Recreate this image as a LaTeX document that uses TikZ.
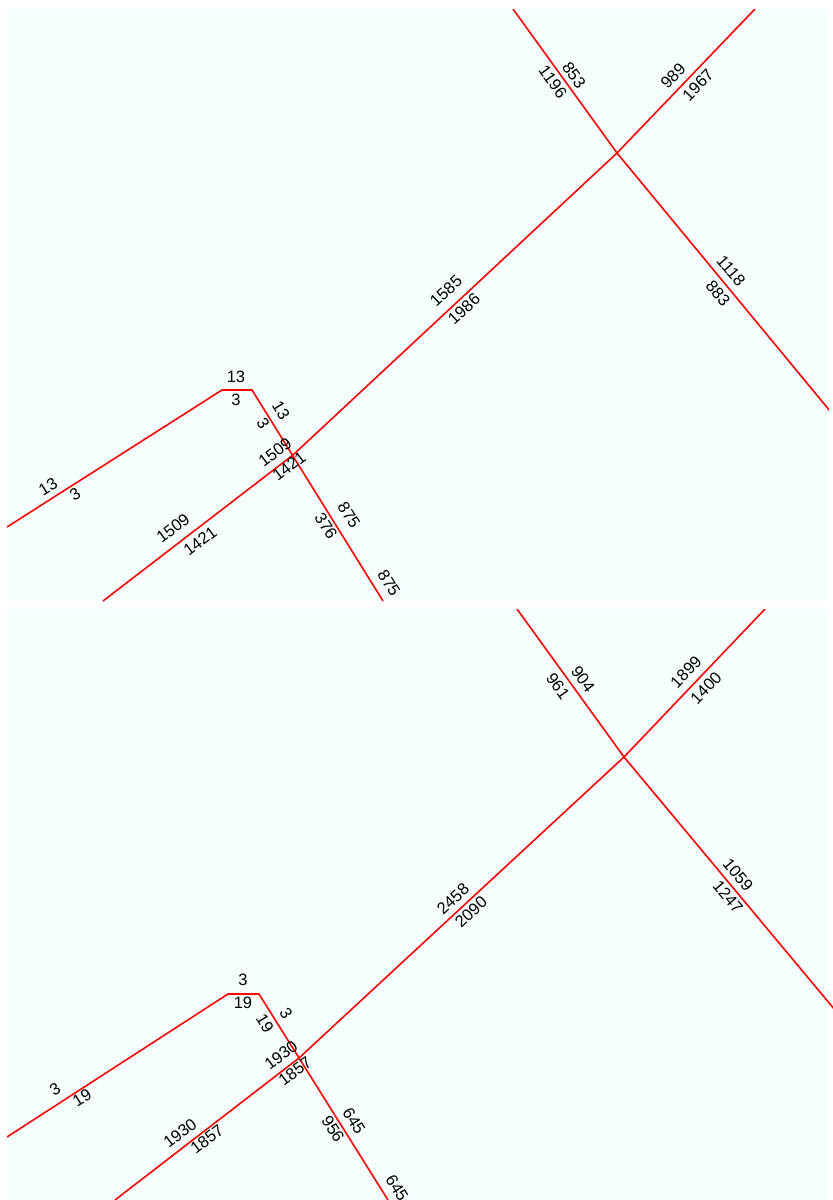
\documentclass[tikz,border=0pt]{standalone}
\usepackage{fontspec}
\setmainfont{Liberation Sans}
\definecolor{mapbg}{RGB}{245,255,255}
\definecolor{roadred}{RGB}{255,0,0}
\begin{document}
\begin{tikzpicture}[x=1pt, y=-1pt,
  road/.style={draw=roadred, line width=1.6pt, line join=miter},
  len/.style={font=\fontsize{16.5}{19}\selectfont, inner sep=0pt, text=black},
  panel/.style={fill=mapbg, draw=none},
]
\useasboundingbox[fill=white] (0,0) rectangle (833,1200);

% top panel
\fill[panel] (7,9) rectangle (829,601);
\coordinate (tA1) at (513,9);
\coordinate (tX)  at (617,153);
\coordinate (tA2) at (830,411);
\coordinate (tB1) at (755,9);
\coordinate (tB2) at (293,455);
\coordinate (tB3) at (103,601);
\coordinate (tC1) at (7,527);
\coordinate (tC2) at (222,390);
\coordinate (tC3) at (252,390);
\coordinate (tC4) at (383,601);
\begin{scope}
  \clip (7,9) rectangle (829,601);
  \draw[road] (tA1) -- (tX) -- (tA2);
  \draw[road] (tB1) -- (tX) -- (tB2) -- (tB3);
  \draw[road] (tC1) -- (tC2) -- (tC3) -- (tC4);
\end{scope}
\node[len, rotate=-54] (t853)   at (574,75)  {853};
\node[len, rotate=-54] (t1196)  at (553,82)  {1196};
\node[len, rotate=46]  (t989)   at (673,76)  {989};
\node[len, rotate=46]  (t1967)  at (698,85)  {1967};
\node[len, rotate=-50] (t1118)  at (731,271) {1118};
\node[len, rotate=-50] (t883)   at (718,293) {883};
\node[len, rotate=43]  (t1585)  at (446,291) {1585};
\node[len, rotate=43]  (t1986)  at (464,309) {1986};
\node[len]             (t13a)   at (236,377) {13};
\node[len]             (t3a)    at (236,400) {3};
\node[len, rotate=-58] (t13b)   at (281,410) {13};
\node[len, rotate=-58] (t3b)    at (263,423) {3};
\node[len, rotate=37]  (t1509a) at (275,452) {1509};
\node[len, rotate=37]  (t1421a) at (289,466) {1421};
\node[len, rotate=37]  (t1509b) at (173,528) {1509};
\node[len, rotate=37]  (t1421b) at (200,541) {1421};
\node[len, rotate=-58] (t875a)  at (349,515) {875};
\node[len, rotate=-58] (t376)   at (326,526) {376};
\node[len, rotate=-58] (t875b)  at (389,583) {875};
\node[len, rotate=32]  (t13c)   at (48,487)  {13};
\node[len, rotate=32]  (t3c)    at (75,494)  {3};

% bottom panel
\fill[panel] (7,609) rectangle (829,1200);
\coordinate (bA1) at (517,609);
\coordinate (bX)  at (624,757);
\coordinate (bA2) at (835,1010);
\coordinate (bB1) at (765,609);
\coordinate (bB2) at (299,1058);
\coordinate (bB3) at (115,1200);
\coordinate (bC1) at (7,1137);
\coordinate (bC2) at (228,994);
\coordinate (bC3) at (259,994);
\coordinate (bC4) at (388,1200);
\begin{scope}
  \clip (7,609) rectangle (833,1200);
  \draw[road] (bA1) -- (bX) -- (bA2);
  \draw[road] (bB1) -- (bX) -- (bB2) -- (bB3);
  \draw[road] (bC1) -- (bC2) -- (bC3) -- (bC4);
\end{scope}
\node[len, rotate=-54] (b904)   at (583,679)  {904};
\node[len, rotate=-54] (b961)   at (558,686)  {961};
\node[len, rotate=46]  (b1899)  at (686,672)  {1899};
\node[len, rotate=46]  (b1400)  at (706,688)  {1400};
\node[len, rotate=-50] (b1059)  at (738,875)  {1059};
\node[len, rotate=-50] (b1247)  at (728,897)  {1247};
\node[len, rotate=43]  (b2458)  at (453,899)  {2458};
\node[len, rotate=43]  (b2090)  at (471,912)  {2090};
\node[len]             (b3a)    at (243,980)  {3};
\node[len]             (b19a)   at (243,1003) {19};
\node[len, rotate=-58] (b3b)    at (286,1013) {3};
\node[len, rotate=-58] (b19b)   at (265,1023) {19};
\node[len, rotate=37]  (b1930a) at (281,1055) {1930};
\node[len, rotate=37]  (b1857a) at (295,1071) {1857};
\node[len, rotate=37]  (b1930b) at (180,1133) {1930};
\node[len, rotate=37]  (b1857b) at (207,1139) {1857};
\node[len, rotate=-58] (b645a)  at (354,1121) {645};
\node[len, rotate=-58] (b956)   at (333,1129) {956};
\node[len, rotate=-58] (b645b)  at (397,1188) {645};
\node[len, rotate=32]  (b3c)    at (55,1089)  {3};
\node[len, rotate=32]  (b19c)   at (82,1098)  {19};
\end{tikzpicture}
\end{document}
